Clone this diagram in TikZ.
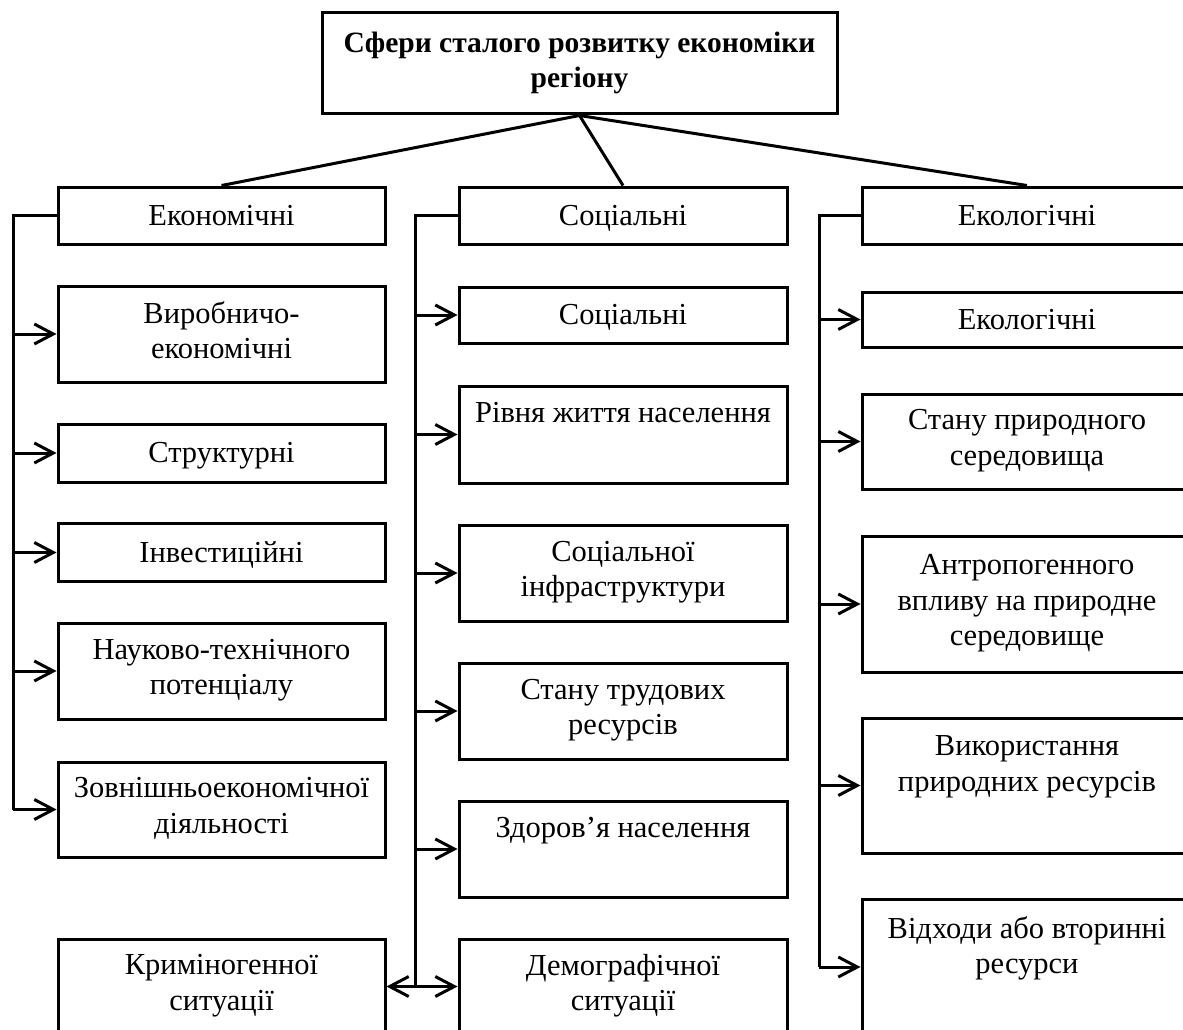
\documentclass[tikz,border=0pt]{standalone}
\usepackage{fontspec}
\setmainfont{Liberation Serif}
\usetikzlibrary{arrows.meta}
\newcommand{\bst}{\rule[-8pt]{0pt}{35pt}}

\begin{document}
\begin{tikzpicture}[x=1pt,y=-1pt,
    box/.style={draw,line width=3pt,align=center,inner sep=0pt,minimum width=327pt,
        font=\fontsize{30.5}{35.5}\selectfont,execute at begin node=\bst,execute at end node=\bst},
    line/.style={line width=3pt},
    arr/.style={line width=3pt,-{Straight Barb[length=19pt,width=20pt]}},
    arrs/.style={line width=3pt,{Straight Barb[length=19pt,width=20pt]}-{Straight Barb[length=19pt,width=20pt]}}]
    \path[use as bounding box] (0,0) rectangle (1183,1030);
    \clip (0,0) rectangle (1183,1030);

    % головний блок
    \node[box,font=\bfseries\fontsize{29.5}{35}\selectfont,minimum width=515pt,minimum height=101pt] (top) at (579.5,63.5) {Сфери сталого розвитку економіки\\регіону};

    % економічні
    \node[box,minimum height=57pt] (ec) at (221.5,215.5) {Економічні};
    \node[box,minimum height=96pt] (ec1) at (221.5,334) {Виробничо-\\економічні};
    \node[box,minimum height=58pt] (ec2) at (221.5,453) {Структурні};
    \node[box,minimum height=58pt] (ec3) at (221.5,552.5) {Інвестиційні};
    \node[box,minimum height=96pt] (ec4) at (221.5,671) {Науково-технічного\\потенціалу};
    \node[box,minimum height=95pt] (ec5) at (221.5,809.5) {Зовнішньоекономічної\\діяльності};
    \node[box,minimum height=95pt] (ec6) at (221.5,986.5) {Криміногенної\\ситуації};

    % соціальні
    \node[box,minimum width=328pt,minimum height=57pt] (so) at (623,215.5) {Соціальні};
    \node[box,minimum width=328pt,minimum height=56pt] (so1) at (623,315) {Соціальні};
    \node[box,minimum width=328pt,minimum height=97pt] (so2) at (623,434.5) {Рівня життя населення\\~};
    \node[box,minimum width=328pt,minimum height=96pt] (so3) at (623,573) {Соціальної\\інфраструктури};
    \node[box,minimum width=328pt,minimum height=96pt] (so4) at (623,711) {Стану трудових\\ресурсів};
    \node[box,minimum width=328pt,minimum height=96pt] (so5) at (623,849) {Здоров’я населення\\~};
    \node[box,minimum width=328pt,minimum height=95pt] (so6) at (623,986.5) {Демографічної\\ситуації};

    % екологічні
    \node[box,minimum width=330pt,minimum height=57pt] (en) at (1027,215.5) {Екологічні};
    \node[box,minimum width=330pt,minimum height=55pt] (en1) at (1027,319.5) {Екологічні};
    \node[box,minimum width=330pt,minimum height=95pt] (en2) at (1027,441.5) {Стану природного\\середовища};
    \node[box,minimum width=330pt,minimum height=136pt] (en3) at (1027,604) {Антропогенного\\впливу на природне\\середовище};
    \node[box,minimum width=330pt,minimum height=135pt] (en4) at (1027,785.5) {Використання\\природних ресурсів\\~};
    \node[box,minimum width=330pt,minimum height=136pt] (en5) at (1027,967) {Відходи або вторинні\\ресурси\\~};

    \draw[line] (top.south) -- (ec.north);
    \draw[line] (top.south) -- (so.north);
    \draw[line] (top.south) -- (en.north);

    \coordinate (lt) at (13,0);
    \coordinate (mt) at (415,0);
    \coordinate (rt) at (819,0);
    \draw[line] (ec.west) -| (lt |- ec5.west);
    \draw[line] (so.west) -| (mt |- so6.west);
    \draw[line] (en.west) -| (rt |- en5.west);
    \foreach \n in {ec1,ec2,ec3,ec4,ec5}
        \draw[arr] (lt |- \n.west) -- (\n.west);
    \foreach \n in {so1,so2,so3,so4,so5}
        \draw[arr] (mt |- \n.west) -- (\n.west);
    \foreach \n in {en1,en2,en3,en4,en5}
        \draw[arr] (rt |- \n.west) -- (\n.west);
    \draw[arrs] (ec6.east) -- (so6.west);
\end{tikzpicture}
\end{document}
